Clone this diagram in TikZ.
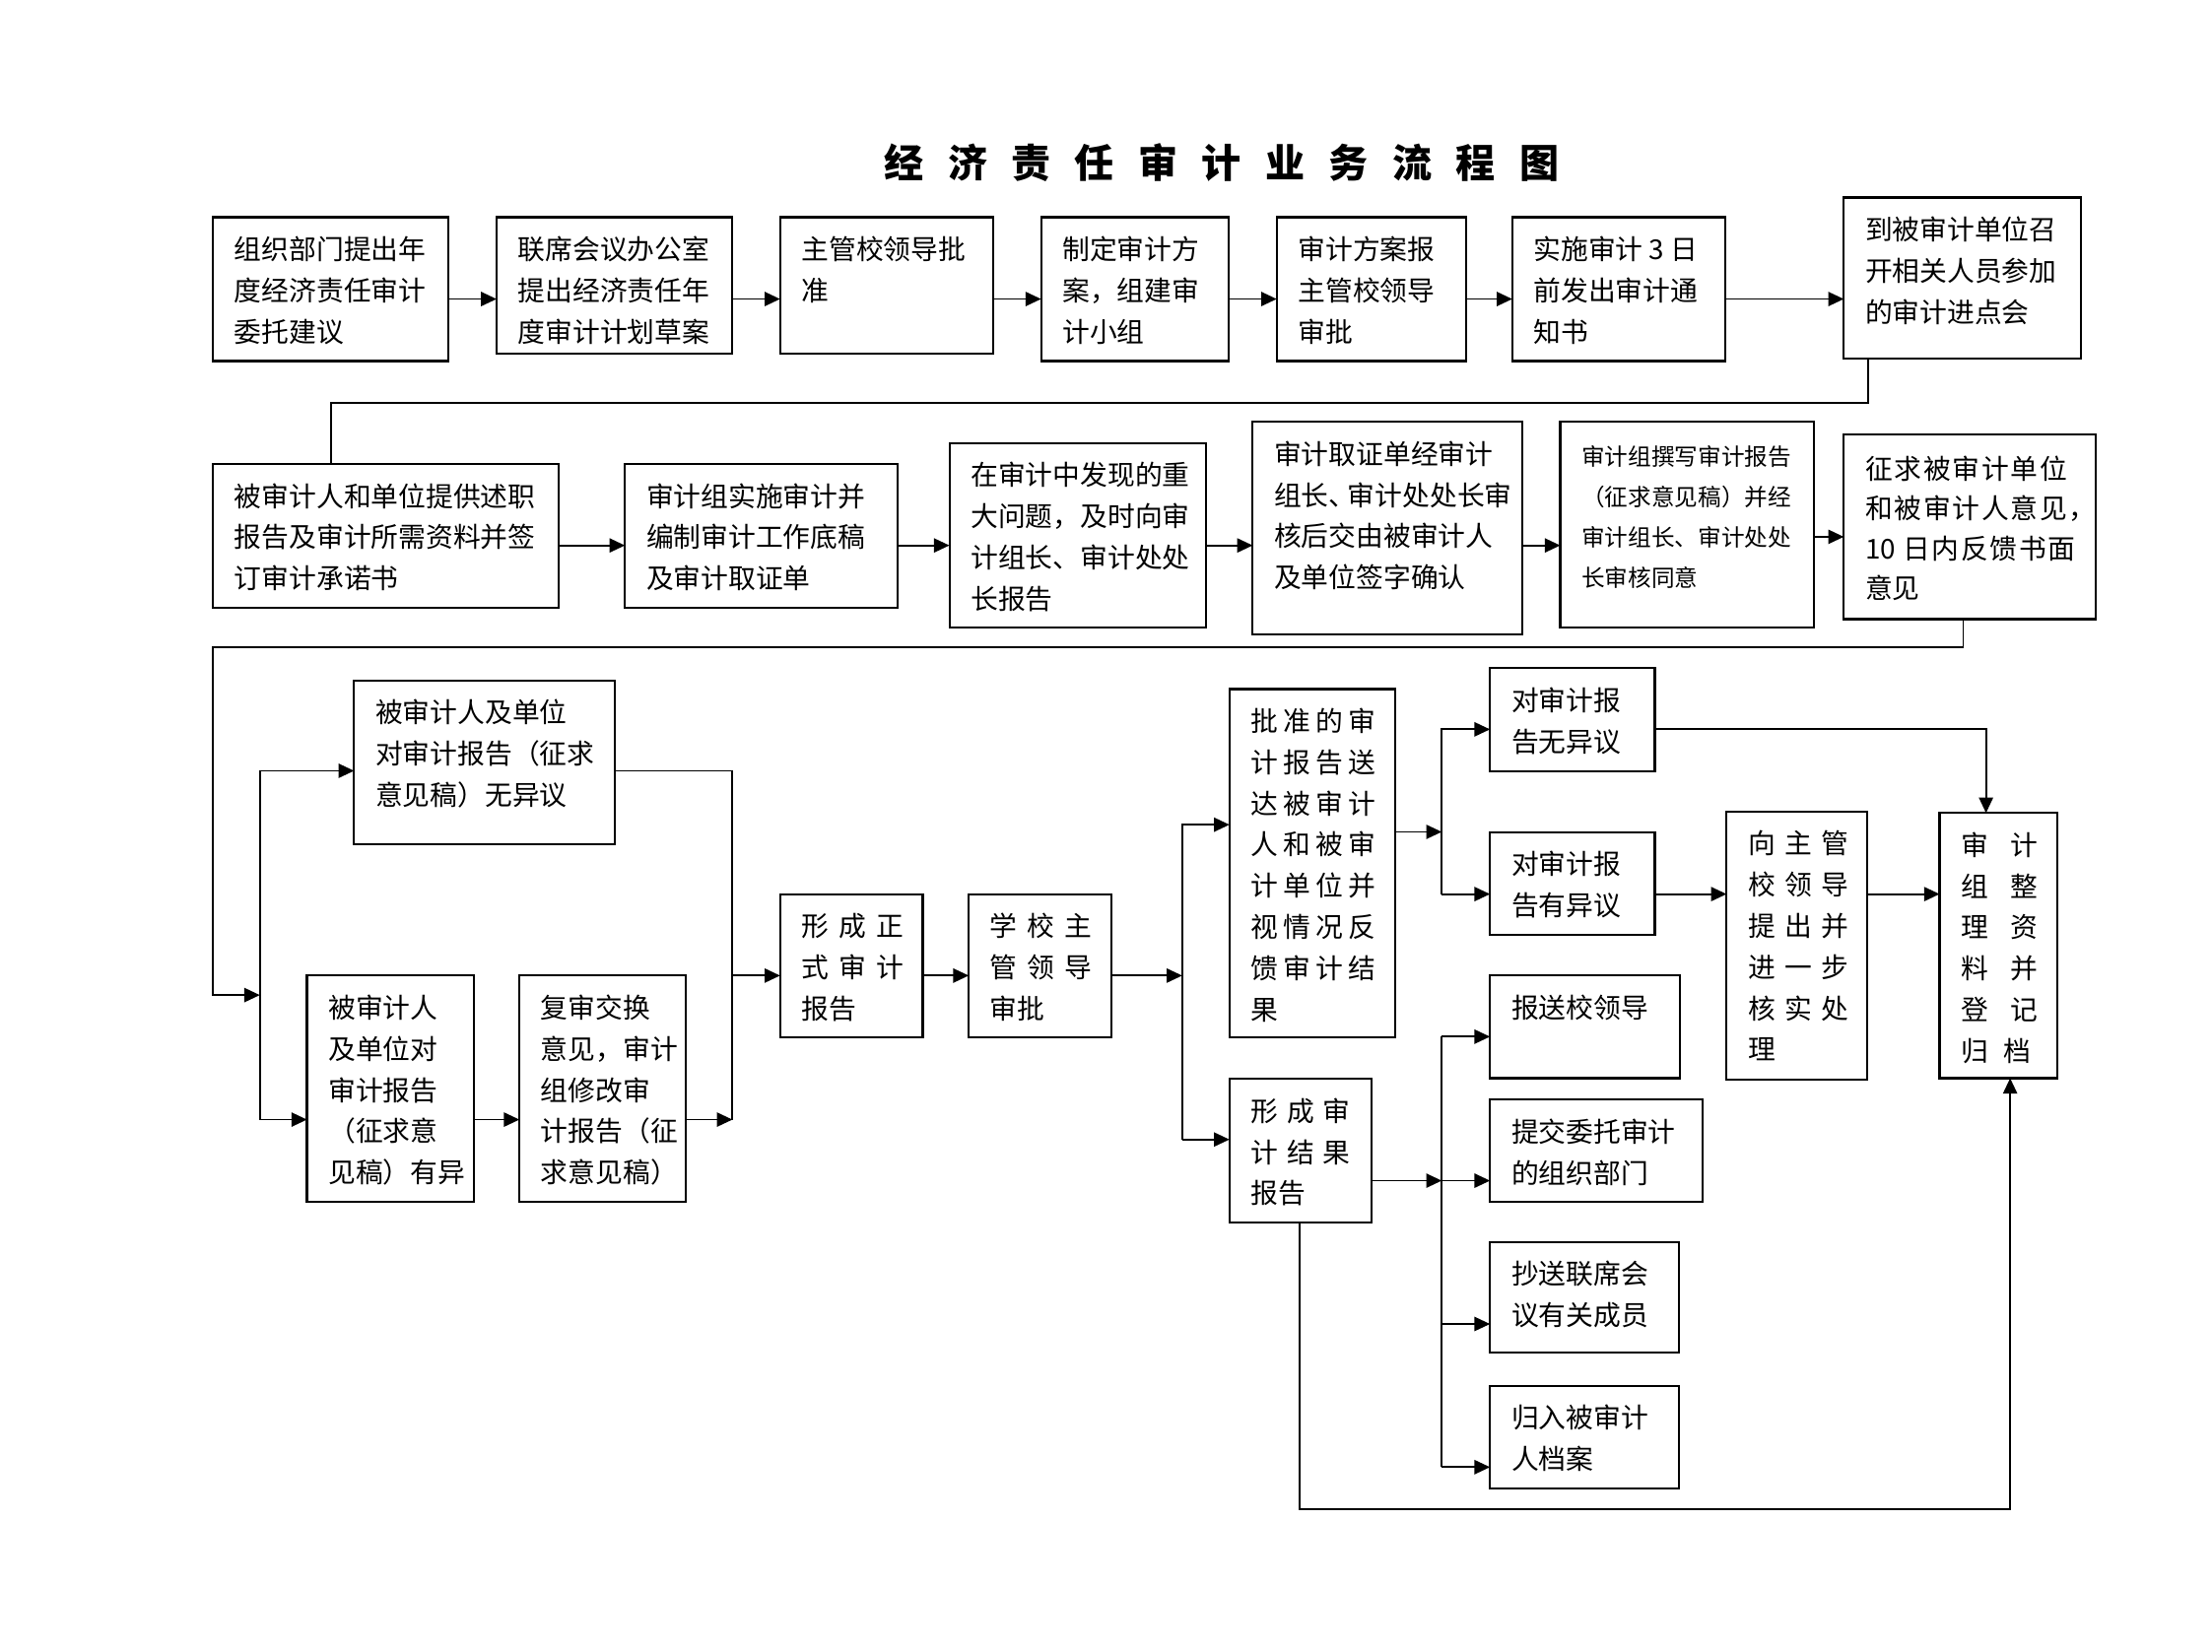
\documentclass[tikz,border=0pt]{standalone}
\usepackage{fontspec}
\setmainfont{Noto Sans CJK SC}
\usetikzlibrary{arrows.meta,calc}
\def\lsp#1#2{\def\lspk{\kern#1}\lspfirst#2\relax}
\def\lspfirst#1{#1\lsploop}
\def\lsploop#1{\ifx#1\relax\else\lspk#1\expandafter\lsploop\fi}
\newcommand\bx[7]{%
  \node[box, minimum width={#4pt-#2pt}, minimum height={#5pt-#3pt}] (#1) at (#2,#3) {};
  \node[txt,#6] (#1t) at ($(#1.north west)+(15,9.9)$) {\rule{0pt}{20pt}#7};}
\begin{document}
\begin{tikzpicture}[x=1pt,y=-1pt,
  box/.style={draw, line width=1.5pt, inner sep=0pt, outer sep=0pt, anchor=north west},
  txt/.style={anchor=north west, inner sep=0pt, align=left, font=\fontsize{19.4pt}{29.2pt}\selectfont},
  ln/.style={line width=1.3pt},
  arr/.style={line width=1.3pt, -{Triangle[length=11pt,width=10pt]}}]
\useasboundingbox (0,0) rectangle (1568,1171);
\node[inner sep=0pt] (title) at (866,115) {\fontsize{28pt}{30pt}\selectfont\bfseries\lsp{17pt}{经济责任审计业务流程图}};
% row 1
\bx{b1}{151}{154}{318}{256}{}{组织部门提出年\\度经济责任审计\\委托建议}
\bx{b2}{352}{154}{519}{251}{}{联席会议办公室\\提出经济责任年\\度审计计划草案}
\bx{b3}{553}{154}{704}{251}{}{主管校领导批\\准}
\bx{b4}{738}{154}{871}{256}{}{制定审计方\\案，组建审\\计小组}
\bx{b5}{905}{154}{1039}{256}{}{审计方案报\\主管校领导\\审批}
\bx{b6}{1072}{154}{1223}{256}{}{实施审计 3 日\\前发出审计通\\知书}
\bx{b7}{1307}{140}{1475}{254}{}{到被审计单位召\\开相关人员参加\\的审计进点会}
% row 2
\bx{b8}{151}{329}{396}{431}{}{被审计人和单位提供述职\\报告及审计所需资料并签\\订审计承诺书}
\bx{b9}{443}{329}{636}{431}{}{审计组实施审计并\\编制审计工作底稿\\及审计取证单}
\bx{b10}{673}{314}{855}{445}{}{在审计中发现的重\\大问题，及时向审\\计组长、审计处处\\长报告}
\bx{b11}{888}{299}{1079}{450}{}{审计取证单经审计\\组长、\kern-6pt 审计处处长审\\核后交由被审计人\\及单位签字确认}
\bx{b12}{1106}{299}{1285.6}{445}{font=\fontsize{16.5pt}{28.7pt}\selectfont, yshift=-1pt}{审计组撰写审计报告\\（征求意见稿）并经\\审计组长、审计处处\\长审核同意}
\bx{b13}{1307}{308}{1485.6}{439}{font=\fontsize{19.4pt}{28.3pt}\selectfont, yshift=-1.5pt}{\lsp{1.2pt}{征求被审计单位}\\\lsp{1.2pt}{和被审计人意见，}\\10\kern5pt\lsp{1.2pt}{日内反馈书面}\\意见}
% row 3 left
\bx{b14}{251}{482.4}{435.9}{598.6}{}{被审计人及单位\\对审计报告（征求\\意见稿）无异议}
\bx{b15}{217.6}{691.7}{335.7}{852}{}{被审计人\\及单位对\\审计报告\\（征求意\\见稿）有异}
\bx{b16}{368.2}{691.7}{486.2}{852}{}{复审交换\\意见，审计\\组修改审\\计报告（征\\求意见稿）}
\bx{b17}{553}{633.9}{654.1}{735.4}{}{\lsp{7pt}{形成正}\\\lsp{7pt}{式审计}\\报告}
\bx{b18}{686.7}{633.9}{787.8}{735.4}{}{\lsp{7pt}{学校主}\\\lsp{7pt}{管领导}\\审批}
% row 3 right
\bx{b19}{871.5}{488.5}{988.7}{735.4}{}{\lsp{3.6pt}{批准的审}\\\lsp{3.6pt}{计报告送}\\\lsp{3.6pt}{达被审计}\\\lsp{3.6pt}{人和被审}\\\lsp{3.6pt}{计单位并}\\\lsp{3.6pt}{视情况反}\\\lsp{3.6pt}{馈审计结}\\果}
\bx{b20}{871.5}{764.9}{972}{866.5}{}{\lsp{6.2pt}{形成审}\\\lsp{6.2pt}{计结果}\\报告}
\bx{b21}{1056.2}{473.8}{1173}{547}{}{对审计报\\告无异议}
\bx{b22}{1056.2}{590}{1173}{662.7}{}{对审计报\\告有异议}
\bx{b23}{1223.9}{575.4}{1323.5}{765.7}{}{\lsp{6.5pt}{向主管}\\\lsp{6.5pt}{校领导}\\\lsp{6.5pt}{提出并}\\\lsp{6.5pt}{进一步}\\\lsp{6.5pt}{核实处}\\理}
\bx{b24}{1374.9}{576.4}{1458.2}{764.4}{}{\lsp{16pt}{审计}\\\lsp{16pt}{组整}\\\lsp{16pt}{理资}\\\lsp{16pt}{料并}\\\lsp{16pt}{登记}\\\lsp{10.6pt}{归档}}
\bx{b25}{1056.2}{691.7}{1191}{764.4}{}{报送校领导}
\bx{b26}{1056.2}{779.6}{1206.8}{852}{}{提交委托审计\\的组织部门}
\bx{b27}{1056.2}{880.5}{1190.1}{959.2}{}{抄送联席会\\议有关成员}
\bx{b28}{1056.2}{982.4}{1190.1}{1055.3}{}{归入被审计\\人档案}
% connectors row 1
\coordinate (r1) at (0,212);
\draw[arr] (b1.east|-r1) -- (b2.west|-r1);
\draw[arr] (b2.east|-r1) -- (b3.west|-r1);
\draw[arr] (b3.east|-r1) -- (b4.west|-r1);
\draw[arr] (b4.east|-r1) -- (b5.west|-r1);
\draw[arr] (b5.east|-r1) -- (b6.west|-r1);
\draw[arr] (b6.east|-r1) -- (b7.west|-r1);
\coordinate (j1) at (1324,285.7);
\coordinate (j2) at (234.5,285.7);
\draw[ln] (b7.south-|j1) -- (j1) -- (j2) -- (b8.north-|j2);
% row 2
\coordinate (r2) at (0,386.7);
\coordinate (r2b) at (0,380.6);
\draw[arr] (b8.east|-r2) -- (b9.west|-r2);
\draw[arr] (b9.east|-r2) -- (b10.west|-r2);
\draw[arr] (b10.east|-r2) -- (b11.west|-r2);
\draw[arr] (b11.east|-r2) -- (b12.west|-r2);
\draw[arr] (b12.east|-r2b) -- (b13.west|-r2b);
\coordinate (k1) at (1391.6,459.1);
\coordinate (k2) at (150.8,459.1);
\coordinate (k3) at (150.8,705.5);
\coordinate (k4) at (184.2,705.5);
\draw[arr] (b13.south-|k1) -- (k1) -- (k2) -- (k3) -- (k4);
% row 3 left
\coordinate (k5) at (184.2,546.5);
\coordinate (k6) at (184.2,793.8);
\draw[arr] (k6) -- (k5) -- (b14.west|-k5);
\draw[arr] (k6) -- (b15.west|-k6);
\draw[arr] (b15.east|-k6) -- (b16.west|-k6);
\coordinate (m1) at (519.2,546.5);
\coordinate (m2) at (519.2,793.8);
\coordinate (m3) at (519.2,691.7);
\draw[ln] (b14.east|-m1) -- (m1) -- (m2);
\draw[arr] (b16.east|-m2) -- (m2);
\draw[arr] (m3) -- (b17.west|-m3);
\draw[arr] (b17.east|-m3) -- (b18.west|-m3);
\coordinate (n1) at (838,691.7);
\coordinate (n2) at (838,584.7);
\coordinate (n3) at (838,807.9);
\draw[arr] (b18.east|-n1) -- (n1);
\draw[arr] (n3) -- (n2) -- (b19.west|-n2);
\draw[arr] (n3) -- (b20.west|-n3);
% row 3 right
\coordinate (p1) at (1022,589.8);
\coordinate (p2) at (1022,517.1);
\coordinate (p3) at (1022,633.9);
\draw[arr] (b19.east|-p1) -- (p1);
\draw[arr] (p3) -- (p2) -- (b21.west|-p2);
\draw[arr] (p3) -- (b22.west|-p3);
\coordinate (q1) at (1407.8,517.1);
\draw[arr] (b21.east|-q1) -- (q1) -- (b24.north-|q1);
\draw[arr] (b22.east|-p3) -- (b23.west|-p3);
\draw[arr] (b23.east|-p3) -- (b24.west|-p3);
\coordinate (s0) at (1022,735);
\coordinate (s1) at (1022,837.1);
\coordinate (s3) at (1022,938.7);
\coordinate (s4) at (1022,1040.2);
\draw[arr] (b20.east|-s1) -- (s1);
\draw[ln] (s0) -- (s4);
\draw[arr] (s0) -- (b25.west|-s0);
\draw[arr] (s1) -- (b26.west|-s1);
\draw[arr] (s3) -- (b27.west|-s3);
\draw[arr] (s4) -- (b28.west|-s4);
\coordinate (u1) at (921.5,1069.8);
\coordinate (u2) at (1424.9,1069.8);
\draw[arr] (b20.south-|u1) -- (u1) -- (u2) -- (b24.south-|u2);
\end{tikzpicture}
\end{document}
